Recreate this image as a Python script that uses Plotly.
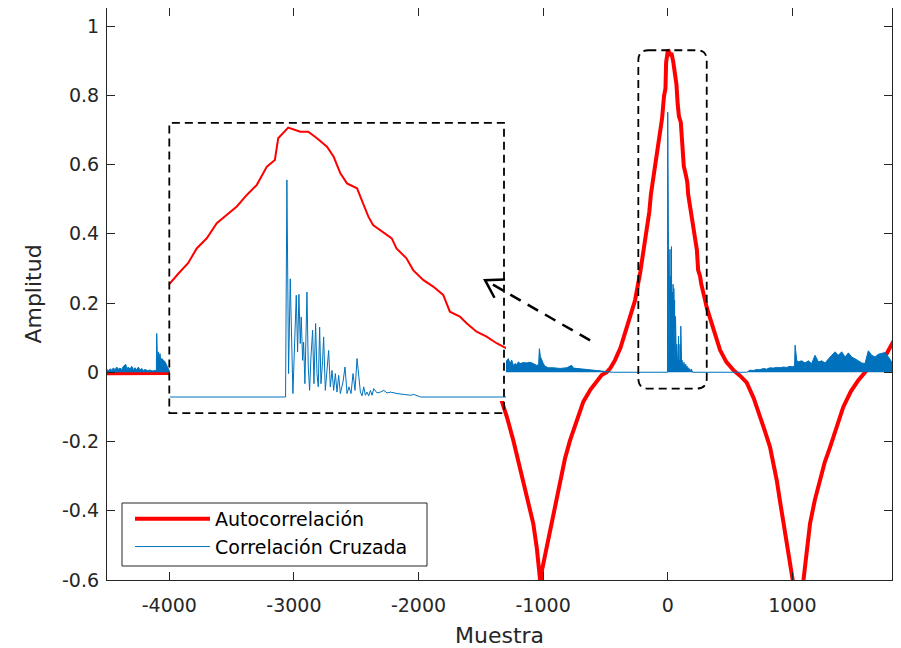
import math
import plotly.graph_objects as go

# ---------------- data ----------------
# Autocorrelación: visible pieces of the curve (lag in samples, amplitude)
red_left_lag = [-4500, -4400, -4300, -4200, -4100, -4000]
red_left_val = [-0.003, -0.003, -0.002, -0.003, -0.003, -0.002]

red_neg_lag = [-1335, -1290, -1239, -1200, -1159, -1120, -1079, -1050, -1030, -1020,
               -1008, -980, -945, -905, -864, -825, -784, -730, -677, -620,
               -570, -530, -490, -460, -423, -380, -343, -300, -262, -220]
red_neg_val = [-0.08, -0.13, -0.197, -0.255, -0.312, -0.37, -0.437, -0.51, -0.575, -0.615,
               -0.57, -0.52, -0.457, -0.385, -0.312, -0.25, -0.197, -0.14, -0.085, -0.05,
               -0.025, -0.008, 0.0, 0.012, 0.035, 0.07, 0.113, 0.16, 0.208, 0.29]

red_peak_lag = [-175, -162, -148, -135, -120, -105, -90, -75, -60, -45,
                -30, -18, -13, 2, 20, 32, 45, 60, 70, 80,
                90, 105, 114, 122, 129, 144, 157, 164, 179, 189,
                204, 219, 234, 244, 259, 269, 284, 299, 314, 329]
red_peak_val = [0.393, 0.428, 0.463, 0.514, 0.549, 0.601, 0.630, 0.659, 0.699, 0.734,
                0.797, 0.820, 0.895, 0.932, 0.918, 0.918, 0.895, 0.866, 0.831, 0.774,
                0.739, 0.722, 0.670, 0.624, 0.595, 0.572, 0.549, 0.514, 0.480, 0.439,
                0.405, 0.382, 0.353, 0.295, 0.278, 0.255, 0.226, 0.209, 0.186, 0.168]

red_pos_lag = [360, 420, 470, 527, 580, 634, 690, 741, 780, 821,
               850, 875, 900, 928, 965, 1003, 1020, 1045, 1070, 1088,
               1115, 1142, 1180, 1222, 1260, 1303, 1355, 1409, 1470, 1530,
               1597, 1680, 1758, 1800, 1851]
red_pos_val = [0.13, 0.064, 0.03, 0.006, -0.01, -0.03, -0.075, -0.125, -0.17, -0.216,
               -0.265, -0.312, -0.37, -0.428, -0.51, -0.6, -0.66, -0.7, -0.66, -0.6,
               -0.515, -0.437, -0.37, -0.312, -0.26, -0.216, -0.155, -0.1, -0.055, -0.023,
               0.006, 0.025, 0.054, 0.08, 0.116]

# Correlación Cruzada: visible pieces
blue_left_lag = [-4500, -4488, -4476, -4462, -4449, -4436, -4422, -4409, -4396, -4382,
                 -4369, -4350, -4340, -4329, -4315, -4302, -4288, -4275, -4262, -4248,
                 -4235, -4222, -4208, -4195, -4175, -4155, -4135, -4115, -4104, -4101,
                 -4095, -4088, -4081, -4075, -4068, -4061, -4048, -4034, -4021, -4008, -4000]
blue_left_val = [0.008, 0.004, 0.010, 0.006, 0.0125, 0.007, 0.015, 0.009, 0.012, 0.008,
                 0.017, 0.023, 0.010, 0.015, 0.009, 0.017, 0.008, 0.013, 0.007, 0.015,
                 0.006, 0.011, 0.005, 0.008, 0.005, 0.006, 0.004, 0.006, 0.005, 0.112,
                 0.030, 0.059, 0.035, 0.054, 0.030, 0.040, 0.034, 0.030, 0.020, 0.006, 0.004]

blue_mid_lag = [-1300, -1279, -1266, -1252, -1239, -1226, -1212, -1199, -1185, -1159,
                -1132, -1105, -1078, -1052, -1036, -1030, -1022, -1012, -998, -985,
                -958, -918, -864, -811, -771, -757, -704, -650, -597, -543, -490, -436]
blue_mid_val = [0.030, 0.0395, 0.025, 0.035, 0.020, 0.025, 0.022, 0.030, 0.025, 0.028,
                0.027, 0.029, 0.025, 0.020, 0.022, 0.068, 0.045, 0.035, 0.025, 0.017,
                0.013, 0.013, 0.011, 0.013, 0.020, 0.012, 0.010, 0.008, 0.006, 0.003, 0.001, 0.0]

blue_peak_lag = [-2, 0, 2.5, 5, 9, 11.5, 14, 16, 18, 20,
                 21.5, 23.5, 25, 27, 30, 32, 34, 36, 38.5, 40.5,
                 43, 45, 47, 49, 51, 53.5, 55, 57.5, 60, 62.5,
                 65, 67.5, 70, 72.5, 75, 77.5, 80, 84, 87, 90,
                 93, 96, 99, 102, 105, 107.5, 110, 112.5, 115, 117.5,
                 120, 122.5, 125, 127.5, 130, 135, 140, 145, 150, 155,
                 160, 165, 175, 185, 190, 195, 200]
blue_peak_val = [0.0, 0.751, 0.081, 0.409, 0.012, 0.173, 0.352, 0.156, 0.355, 0.185,
                 0.277, 0.127, 0.190, 0.046, 0.363, 0.104, 0.023, 0.138, 0.231, 0.046,
                 0.254, 0.081, 0.035, 0.242, 0.046, 0.127, 0.208, 0.023, 0.104, 0.161,
                 0.035, 0.092, 0.023, 0.081, 0.017, 0.075, 0.012, 0.052, 0.104, 0.012,
                 0.035, 0.012, 0.081, 0.023, 0.133, 0.069, 0.017, 0.004, 0.035, 0.006,
                 0.017, 0.004, 0.023, 0.006, 0.029, 0.014, 0.017, 0.023, 0.014, 0.017,
                 0.014, 0.012, 0.009, 0.006, 0.009, 0.005, 0.0]

blue_right_lag = [634, 660, 687, 714, 740, 767, 794, 821, 847, 874,
                  901, 928, 954, 981, 1000, 1018, 1022, 1030, 1035, 1048,
                  1075, 1102, 1129, 1155, 1182, 1209, 1236, 1262, 1289, 1316,
                  1343, 1356, 1369, 1396, 1423, 1450, 1476, 1503, 1530, 1557,
                  1583, 1610, 1637, 1664, 1690, 1717, 1744, 1771, 1797, 1824, 1851]
blue_right_val = [0.0, 0.006, 0.005, 0.008, 0.007, 0.011, 0.009, 0.013, 0.012, 0.014,
                  0.013, 0.015, 0.014, 0.017, 0.016, 0.018, 0.078, 0.040, 0.035, 0.030,
                  0.033, 0.027, 0.033, 0.025, 0.049, 0.030, 0.033, 0.027, 0.039, 0.049,
                  0.059, 0.054, 0.049, 0.059, 0.044, 0.056, 0.044, 0.039, 0.034, 0.027,
                  0.025, 0.062, 0.049, 0.044, 0.052, 0.054, 0.057, 0.044, 0.030, 0.025, 0.020]

x_tick_vals = [-4000, -3000, -2000, -1000, 0, 1000]
x_tick_text = ["-4000", "-3000", "-2000", "-1000", "0", "1000"]
y_tick_vals = [-0.6, -0.4, -0.2, 0, 0.2, 0.4, 0.6, 0.8, 1]
y_tick_text = ["-0.6", "-0.4", "-0.2", "0", "0.2", "0.4", "0.6", "0.8", "1"]

# ---------------- assemble series ----------------
red_lag = red_left_lag + [None] + red_neg_lag + red_peak_lag + red_pos_lag
red_val = red_left_val + [None] + red_neg_val + red_peak_val + red_pos_val
blue_lag = blue_left_lag + [None] + blue_mid_lag + blue_peak_lag + blue_right_lag
blue_val = blue_left_val + [None] + blue_mid_val + blue_peak_val + blue_right_val

# ---------------- layout geometry ----------------
# The page body has an 8px margin and the visible page ends 8px before the window edge.
OFF = 8
W, H = 901 - 2 * OFF, 648 - OFF
# plot area in window pixels
PL, PR, PT, PB = 107, 892, 8, 580
ML, MR, MT, MB = PL - OFF, W - (PR - OFF), PT - OFF, H - (PB - OFF)
PW, PH = PR - PL, PB - PT
SX = 791 / 6348.0            # px per sample (reference scale)
XR = [-4500, -4500 + PW / SX]
YR = [-0.6, 1.052]
SY = PH / (YR[1] - YR[0])   # px per amplitude unit


def px_x(p):
    return (p - PL) / PW


def px_y(p):
    return (PB - p) / PH


# inset (zoom of the peak) placement in window pixels
IN_L, IN_R, IN_T, IN_B = 170, 506, 125, 401
INSET_XR = [-175, 328]
INSET_YR = [-0.0138, 0.941]

RED = "#FF0000"
BLUE = "#0072BD"
AX = "#262626"
FONT = "DejaVu Sans"

fig = go.Figure()
fig.add_trace(go.Scatter(x=red_lag, y=red_val, mode="lines", name="Autocorrelación",
                         line=dict(color=RED, width=4), xaxis="x", yaxis="y"))
fig.add_trace(go.Scatter(x=blue_lag, y=blue_val, mode="lines", name="Correlación Cruzada",
                         line=dict(color=BLUE, width=1), fill="tozeroy", fillcolor=BLUE,
                         showlegend=False, xaxis="x", yaxis="y"))
# white background of the inset
fig.add_trace(go.Scatter(x=[INSET_XR[0] - 50, INSET_XR[1] + 50, INSET_XR[1] + 50, INSET_XR[0] - 50],
                         y=[INSET_YR[0] - 0.1, INSET_YR[0] - 0.1, INSET_YR[1] + 0.1, INSET_YR[1] + 0.1],
                         mode="lines", fill="toself", fillcolor="white", line=dict(width=0, color="white"),
                         showlegend=False, hoverinfo="skip", xaxis="x2", yaxis="y2"))
fig.add_trace(go.Scatter(x=red_lag, y=red_val, mode="lines", name="Autocorrelación",
                         line=dict(color=RED, width=2), showlegend=False, xaxis="x2", yaxis="y2"))
fig.add_trace(go.Scatter(x=blue_lag, y=blue_val, mode="lines", name="Correlación Cruzada",
                         line=dict(color=BLUE, width=1), xaxis="x2", yaxis="y2"))

# ---------------- annotation shapes ----------------
dash_rect = "8px,5px"
shapes = []
# dashed frame around inset
shapes.append(dict(type="rect", xref="x", yref="y", x0=-4000, x1=-1314, y0=-0.118, y1=0.72,
                   line=dict(color="black", width=1.8, dash=dash_rect)))
# rounded dashed box around the peak
bx0, bx1, by0, by1 = -236, 313, -0.047, 0.93
rx, ry = 10 / SX, 10 / SY
path = (f"M {bx0+rx},{by1} L {bx1-rx},{by1} Q {bx1},{by1} {bx1},{by1-ry} "
        f"L {bx1},{by0+ry} Q {bx1},{by0} {bx1-rx},{by0} L {bx0+rx},{by0} "
        f"Q {bx0},{by0} {bx0},{by0+ry} L {bx0},{by1-ry} Q {bx0},{by1} {bx0+rx},{by1} Z")
shapes.append(dict(type="path", xref="x", yref="y", path=path,
                   line=dict(color="black", width=1.8, dash=dash_rect)))
# dashed arrow
tail = (-623, 0.092)
head = (-1466, 0.266)
shapes.append(dict(type="line", xref="x", yref="y", x0=tail[0], y0=tail[1], x1=head[0], y1=head[1],
                   line=dict(color="black", width=2.5, dash="12px,8px")))
dxp = (tail[0] - head[0]) * SX
dyp = -(tail[1] - head[1]) * SY
ang = math.atan2(dyp, dxp)
arms = []
for off in (math.radians(32), -math.radians(32)):
    a = ang + off
    arms.append((head[0] + 20 * math.cos(a) / SX, head[1] - 20 * math.sin(a) / SY))
shapes.append(dict(type="path", xref="x", yref="y",
                   path=f"M {arms[0][0]},{arms[0][1]} L {head[0]},{head[1]} L {arms[1][0]},{arms[1][1]}",
                   line=dict(color="black", width=2.5)))
# legend frame
shapes.append(dict(type="rect", xref="paper", yref="paper",
                   x0=px_x(122), x1=px_x(427), y0=px_y(566), y1=px_y(503),
                   line=dict(color=AX, width=1), fillcolor="white", layer="above"))

axis_common = dict(showline=True, linecolor=AX, linewidth=1.2, mirror="ticks", ticks="inside",
                   ticklen=8, tickwidth=1.2, tickcolor=AX, showgrid=False, zeroline=False,
                   automargin=False, tickfont=dict(family=FONT, size=19, color=AX))

fig.update_layout(
    width=W, height=H,
    margin=dict(l=ML, r=MR, t=MT, b=MB, autoexpand=False),
    paper_bgcolor="white", plot_bgcolor="white",
    font=dict(family=FONT, size=19, color=AX),
    showlegend=True,
    legend=dict(x=px_x(130), y=px_y(500), xanchor="left", yanchor="top",
                bgcolor="rgba(0,0,0,0)", borderwidth=0,
                font=dict(family=FONT, size=19, color="black"), itemwidth=75,
                tracegroupgap=0),
    xaxis=dict(range=XR, domain=[0, 1], tickvals=x_tick_vals, ticktext=x_tick_text,
               ticklabelstandoff=8,
               title=dict(text="Muestra", font=dict(family=FONT, size=22, color=AX), standoff=12),
               **axis_common),
    yaxis=dict(range=YR, domain=[0, 1], tickvals=y_tick_vals, ticktext=y_tick_text,
               ticklabelstandoff=3,
               title=dict(text="Amplitud", font=dict(family=FONT, size=22, color=AX), standoff=14),
               **axis_common),
    xaxis2=dict(range=INSET_XR, domain=[px_x(IN_L), px_x(IN_R)], anchor="y2", visible=False),
    yaxis2=dict(range=INSET_YR, domain=[px_y(IN_B), px_y(IN_T)], anchor="x2", visible=False),
    shapes=shapes,
)

fig.write_html("out.html")
